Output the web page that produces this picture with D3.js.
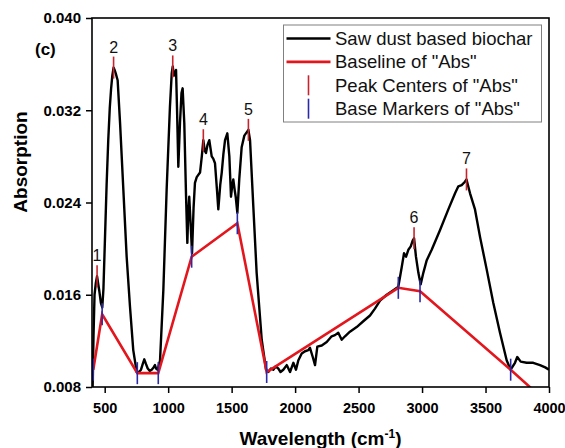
<!DOCTYPE html>
<html>
<head>
<meta charset="utf-8">
<script src="https://cdn.jsdelivr.net/npm/d3@7"></script>
<style>
  body { margin: 0; background: #fff; }
  text { font-family: "Liberation Sans", Arial, sans-serif; }
</style>
</head>
<body>
<div class="ftirChart"></div>
<script>
// FTIR spectrum
const wavenumber = [405, 412, 420, 430, 440, 448, 458, 470, 481, 490, 502, 515, 528, 540, 550, 560, 570, 578, 587, 602,
    621, 647, 673, 699, 725, 752, 770, 786, 800, 812, 825, 839, 855, 870, 885, 896, 905, 917, 936, 962,
    988, 1014, 1028, 1036, 1045, 1054, 1062, 1070, 1080, 1093, 1105, 1114, 1120, 1127, 1141, 1151, 1158, 1166, 1178, 1188,
    1200, 1211, 1225, 1251, 1265, 1277, 1288, 1298, 1310, 1324, 1343, 1355, 1369, 1385, 1395, 1410, 1422, 1435, 1448, 1466,
    1482, 1495, 1505, 1513, 1525, 1532, 1545, 1560, 1579, 1600, 1632, 1645, 1671, 1697, 1737, 1771, 1789, 1810, 1828, 1848,
    1868, 1885, 1907, 1934, 1960, 1986, 2007, 2025, 2052, 2078, 2104, 2117, 2139, 2157, 2175, 2210, 2249, 2288, 2314, 2340,
    2367, 2393, 2432, 2485, 2537, 2590, 2629, 2669, 2722, 2774, 2813, 2840, 2858, 2874, 2892, 2911, 2926, 2937, 2952, 2971,
    2989, 3010, 3037, 3076, 3141, 3207, 3260, 3286, 3312, 3338, 3350, 3378, 3417, 3457, 3509, 3561, 3614, 3667, 3698, 3732,
    3750, 3777, 3824, 3876, 3929, 3970, 4000];
const absorbance = [0.0080, 0.0125, 0.0160, 0.0170, 0.0176, 0.0170, 0.0163, 0.0153, 0.0149, 0.0165, 0.0208, 0.0255, 0.0294, 0.0322, 0.0338, 0.0350, 0.0357, 0.0355, 0.0352, 0.0346,
    0.0309, 0.0251, 0.0193, 0.0150, 0.0112, 0.0093, 0.0093, 0.0095, 0.0100, 0.0104, 0.0100, 0.0096, 0.0094, 0.0095, 0.0097, 0.0099, 0.0096, 0.0095, 0.0103, 0.0164,
    0.0251, 0.0323, 0.0352, 0.0358, 0.0350, 0.0352, 0.0355, 0.0320, 0.0271, 0.0309, 0.0335, 0.0339, 0.0325, 0.0309, 0.0245, 0.0205, 0.0230, 0.0245, 0.0219, 0.0196,
    0.0235, 0.0257, 0.0262, 0.0266, 0.0280, 0.0294, 0.0285, 0.0283, 0.0290, 0.0294, 0.0280, 0.0278, 0.0274, 0.0250, 0.0234, 0.0255, 0.0266, 0.0282, 0.0294, 0.0300,
    0.0280, 0.0245, 0.0255, 0.0260, 0.0250, 0.0245, 0.0231, 0.0260, 0.0288, 0.0298, 0.0303, 0.0294, 0.0236, 0.0179, 0.0121, 0.0095, 0.0093, 0.0096, 0.0095, 0.0098,
    0.0096, 0.0093, 0.0095, 0.0099, 0.0093, 0.0101, 0.0095, 0.0103, 0.0109, 0.0111, 0.0112, 0.0114, 0.0106, 0.0099, 0.0115, 0.0116, 0.0119, 0.0124, 0.0125, 0.0127,
    0.0121, 0.0124, 0.0128, 0.0132, 0.0137, 0.0142, 0.0148, 0.0155, 0.0160, 0.0164, 0.0167, 0.0184, 0.0196, 0.0193, 0.0199, 0.0202, 0.0207, 0.0209, 0.0193, 0.0179,
    0.0169, 0.0179, 0.0190, 0.0199, 0.0216, 0.0234, 0.0248, 0.0254, 0.0255, 0.0258, 0.0260, 0.0248, 0.0234, 0.0210, 0.0182, 0.0153, 0.0127, 0.0103, 0.0095, 0.0101,
    0.0106, 0.0102, 0.0101, 0.0101, 0.0099, 0.0097, 0.0095];

// baseline anchor points (base markers), last one runs off the axis
const baselineX = [410, 480, 757, 922, 1185, 1545, 1776, 2813, 2984, 3698, 4000];
const baselineY = [0.0095, 0.0143, 0.0092, 0.0092, 0.0193, 0.0222, 0.0093, 0.0166, 0.0163, 0.0095, 0.0065];

const peakX = [440, 570, 1036, 1277, 1632, 2937, 3350];
const peakY = [0.0176, 0.0357, 0.0358, 0.0294, 0.0303, 0.0209, 0.0260];
const peakLabels = ['1', '2', '3', '4', '5', '6', '7'];

const xTicks = [500, 1000, 1500, 2000, 2500, 3000, 3500, 4000];
const yTicks = [0.008, 0.016, 0.024, 0.032, 0.040];

const legendLabels = ['Saw dust based biochar', 'Baseline of "Abs"', 'Peak Centers of "Abs"', 'Base Markers of "Abs"'];

const W = 565, H = 448;
const margin = { top: 18, right: 16, bottom: 61, left: 92 };
const width = W - margin.left - margin.right;
const height = H - margin.top - margin.bottom;

const xScale = d3.scaleLinear().domain([400, 4000]).range([0, width]);
const yScale = d3.scaleLinear().domain([0.008, 0.040]).range([height, 0]);

const svg = d3.select('.ftirChart')
    .append('svg')
    .attr('width', W)
    .attr('height', H);

const g = svg.append('g')
    .attr('transform', 'translate(' + margin.left + ',' + margin.top + ')');

g.append('clipPath').attr('id', 'plotClip')
    .append('rect').attr('width', width).attr('height', height);

const plot = g.append('g').attr('clip-path', 'url(#plotClip)');

const line = d3.line()
    .x(d => xScale(d[0]))
    .y(d => yScale(d[1]));

const spectrum = wavenumber.map((w, i) => [w, absorbance[i]]);
const baseline = baselineX.map((w, i) => [w, baselineY[i]]);

plot.append('path')
    .datum(spectrum)
    .attr('fill', 'none')
    .attr('stroke', '#000')
    .attr('stroke-width', 2.4)
    .attr('stroke-linejoin', 'round')
    .attr('d', line);

plot.append('path')
    .datum(baseline)
    .attr('fill', 'none')
    .attr('stroke', '#e3161d')
    .attr('stroke-width', 2.6)
    .attr('d', line);

// base markers
plot.selectAll('.baseMark')
    .data(baseline.slice(0, -1))
    .enter()
    .append('line')
    .attr('class', 'baseMark')
    .attr('x1', d => xScale(d[0]))
    .attr('x2', d => xScale(d[0]))
    .attr('y1', d => yScale(d[1]) - 11)
    .attr('y2', d => yScale(d[1]) + 11)
    .attr('stroke', '#2a2aa8')
    .attr('stroke-width', 1.6);

// peak centers
plot.selectAll('.peakMark')
    .data(peakX)
    .enter()
    .append('line')
    .attr('class', 'peakMark')
    .attr('x1', d => xScale(d))
    .attr('x2', d => xScale(d))
    .attr('y1', (d, i) => yScale(peakY[i]) - 11)
    .attr('y2', (d, i) => yScale(peakY[i]) + 11)
    .attr('stroke', '#c8232c')
    .attr('stroke-width', 1.6);

g.selectAll('.peakLabel')
    .data(peakLabels)
    .enter()
    .append('text')
    .attr('class', 'peakLabel')
    .attr('x', (d, i) => xScale(peakX[i]))
    .attr('y', (d, i) => yScale(peakY[i]) - 15)
    .attr('text-anchor', 'middle')
    .attr('font-size', 16)
    .attr('fill', '#111')
    .text(d => d);

// axes
const xAxis = g.append('g')
    .attr('transform', 'translate(0,' + height + ')')
    .call(d3.axisBottom(xScale).tickValues(xTicks).tickSize(6).tickPadding(10).tickFormat(d3.format('d')));

const yAxis = g.append('g')
    .call(d3.axisLeft(yScale).tickValues(yTicks).tickSize(6).tickPadding(5).tickFormat(d3.format('.3f')));

[xAxis, yAxis].forEach(a => {
    a.select('.domain').remove();
    a.selectAll('line').attr('stroke', '#000').attr('stroke-width', 1.5);
    a.selectAll('text')
        .attr('fill', '#000')
        .attr('font-weight', 'bold')
        .style('font-family', '"Liberation Sans", Arial, sans-serif');
});
xAxis.selectAll('text').attr('font-size', 14.5);
yAxis.selectAll('text').attr('font-size', 15);

g.append('rect')
    .attr('width', width)
    .attr('height', height)
    .attr('fill', 'none')
    .attr('stroke', '#000')
    .attr('stroke-width', 1.6);

// axis titles
const xTitle = svg.append('text')
    .attr('x', margin.left + width / 2)
    .attr('y', 445)
    .attr('text-anchor', 'middle')
    .attr('font-size', 19)
    .attr('font-weight', 'bold')
    .text('Wavelength (cm');
xTitle.append('tspan').attr('baseline-shift', 'super').attr('font-size', 12).text('-1');
xTitle.append('tspan').text(')');

svg.append('text')
    .attr('transform', 'translate(27,162) rotate(-90)')
    .attr('text-anchor', 'middle')
    .attr('font-size', 19)
    .attr('font-weight', 'bold')
    .text('Absorption');

svg.append('text')
    .attr('x', 35)
    .attr('y', 55)
    .attr('font-size', 17)
    .attr('font-weight', 'bold')
    .text('(c)');

// legend
const legend = svg.append('g').attr('transform', 'translate(283.5,25)');
legend.append('rect')
    .attr('width', 258)
    .attr('height', 97)
    .attr('fill', '#fff')
    .attr('stroke', '#808080')
    .attr('stroke-width', 1);

const rowY = i => 13.5 + i * 23.4;
legend.append('line').attr('x1', 3).attr('x2', 47).attr('y1', rowY(0)).attr('y2', rowY(0))
    .attr('stroke', '#000').attr('stroke-width', 2.4);
legend.append('line').attr('x1', 3).attr('x2', 47).attr('y1', rowY(1)).attr('y2', rowY(1))
    .attr('stroke', '#e3161d').attr('stroke-width', 2.6);
legend.append('line').attr('x1', 25).attr('x2', 25).attr('y1', rowY(2) - 10).attr('y2', rowY(2) + 10)
    .attr('stroke', '#c8232c').attr('stroke-width', 1.6);
legend.append('line').attr('x1', 25).attr('x2', 25).attr('y1', rowY(3) - 10).attr('y2', rowY(3) + 10)
    .attr('stroke', '#2a2aa8').attr('stroke-width', 1.6);

legend.selectAll('.legendText')
    .data(legendLabels)
    .enter()
    .append('text')
    .attr('class', 'legendText')
    .attr('x', 51.5)
    .attr('y', (d, i) => rowY(i) + 6.5)
    .attr('font-size', 18.5)
    .attr('fill', '#111')
    .text(d => d);
</script>
</body>
</html>
